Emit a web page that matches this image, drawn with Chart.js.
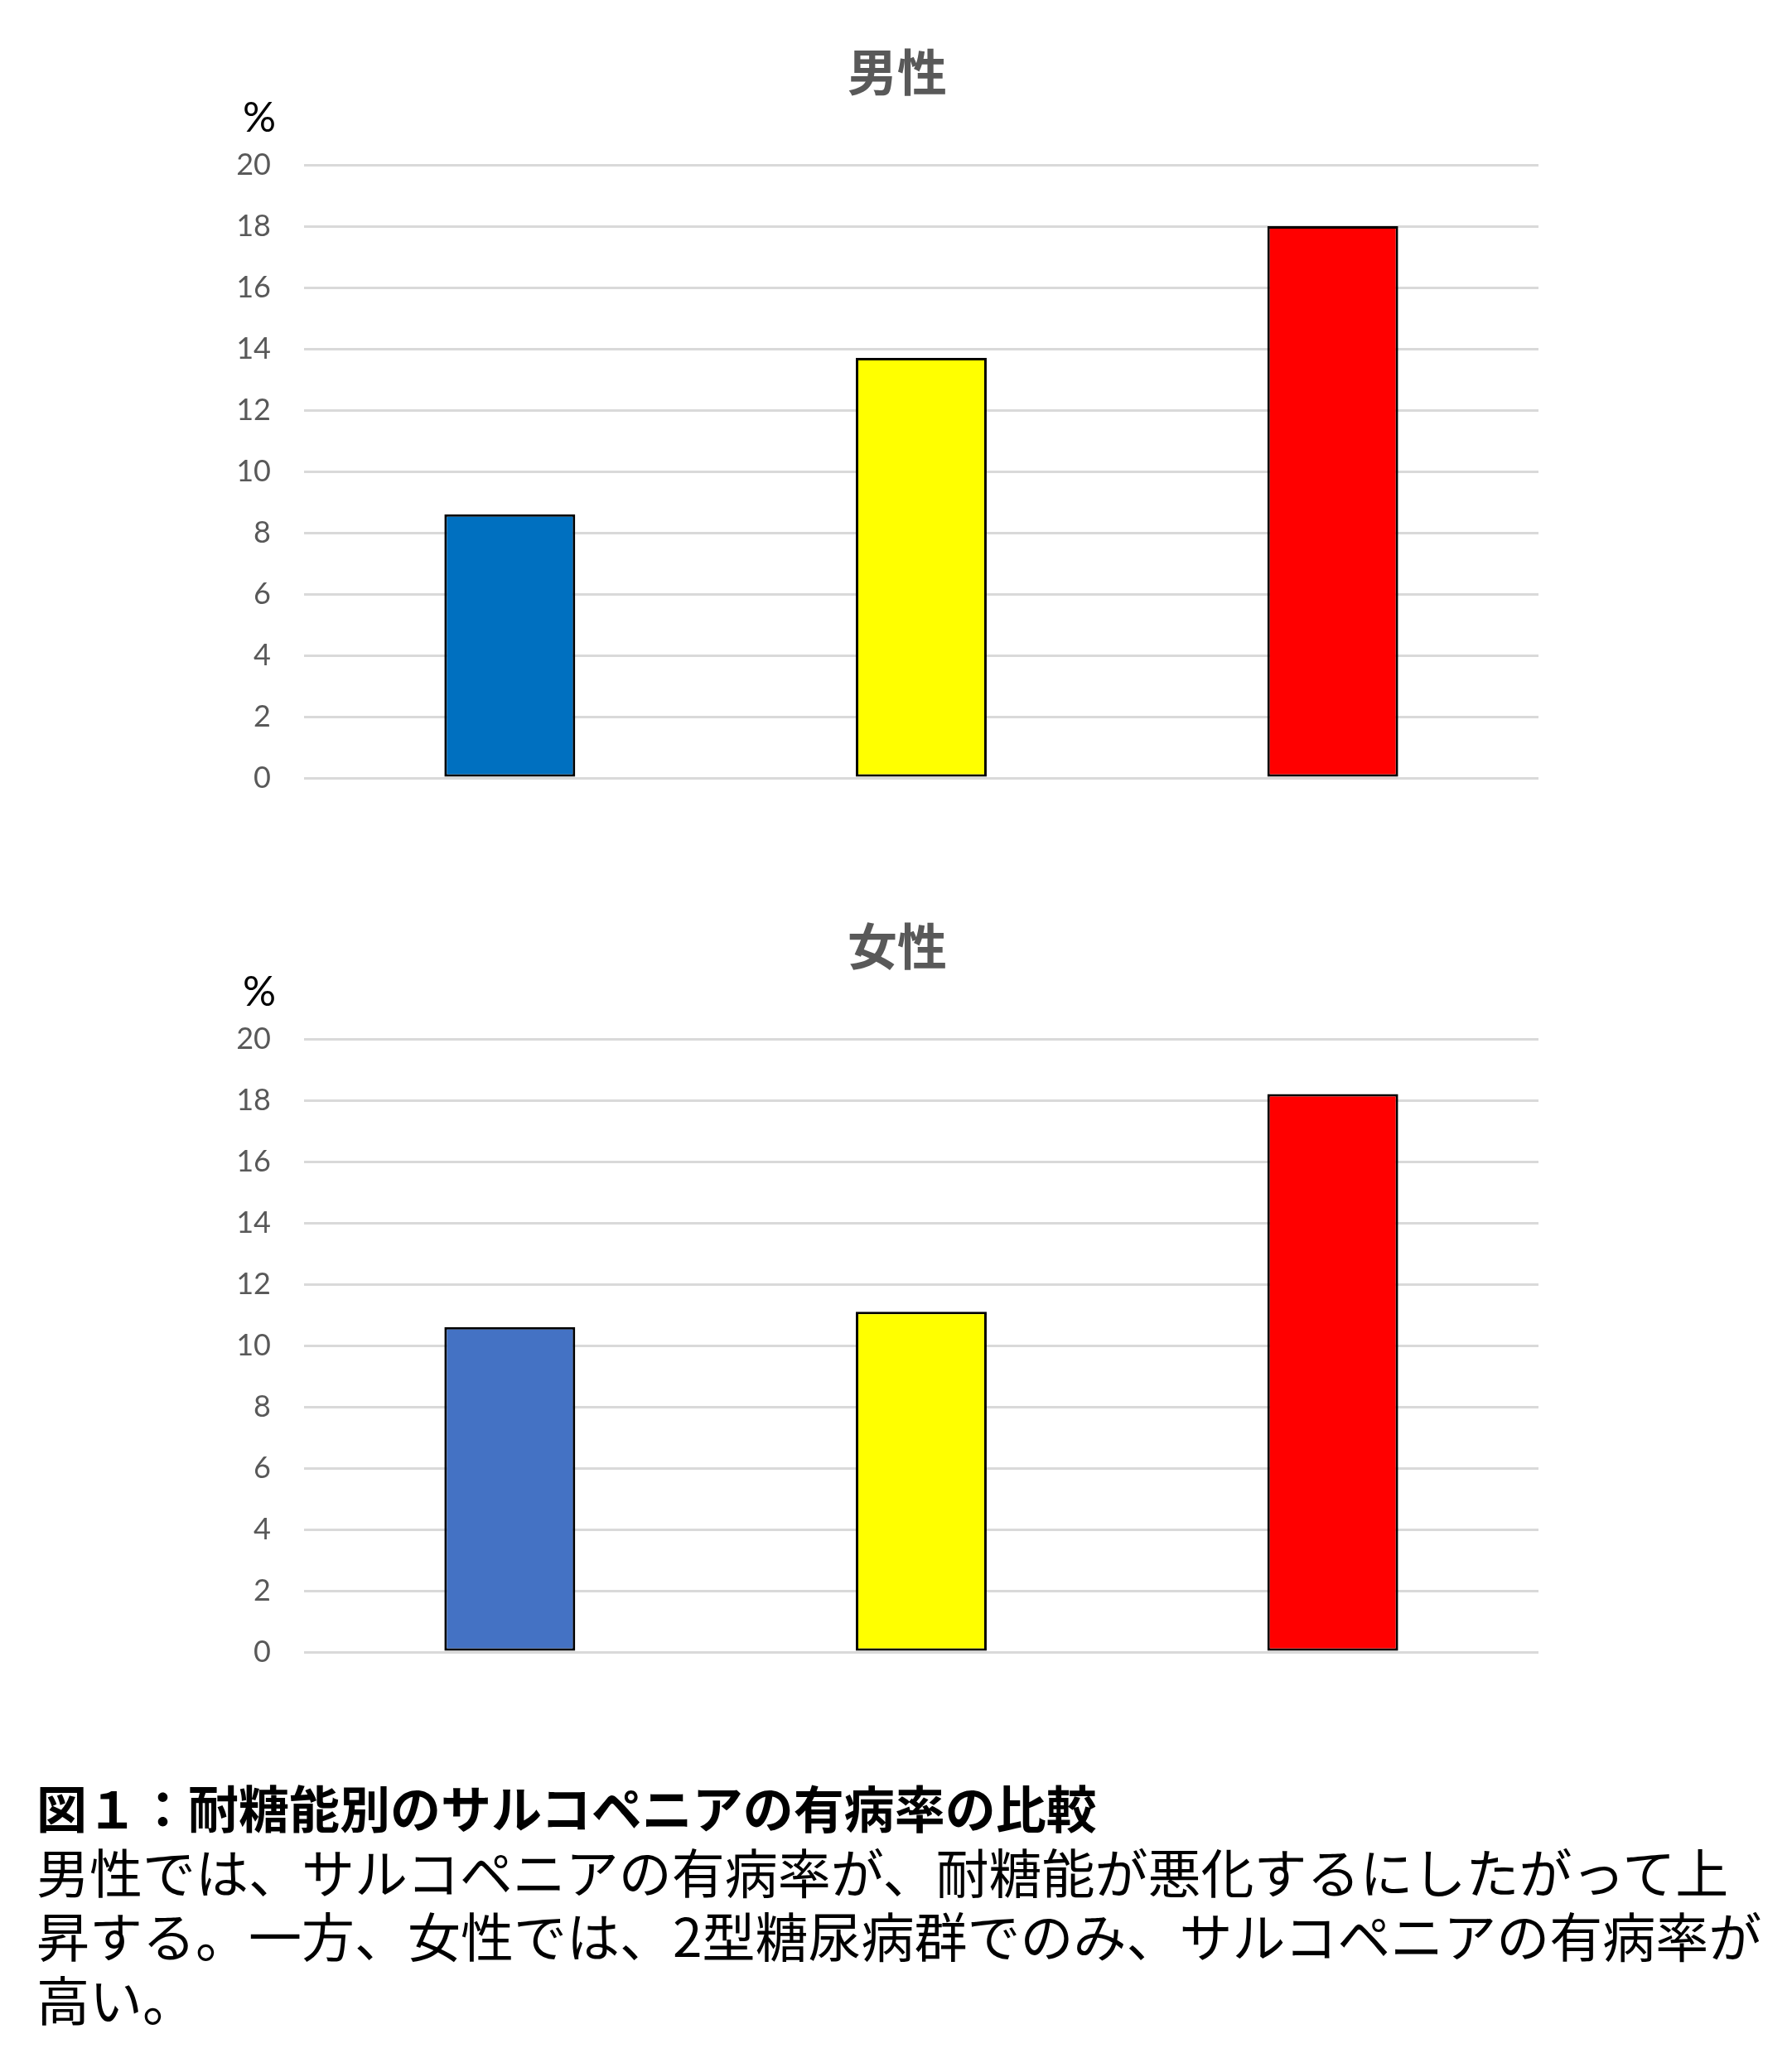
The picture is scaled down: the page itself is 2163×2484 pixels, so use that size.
<!DOCTYPE html>
<html lang="ja">
<head>
<meta charset="utf-8">
<title>耐糖能別のサルコペニアの有病率</title>
<script src="https://cdn.jsdelivr.net/npm/chart.js@4.4.1/dist/chart.umd.min.js"></script>
<style>
  html, body { margin: 0; padding: 0; background: #fff; }
  body { width: 2163px; height: 2484px; position: relative; overflow: hidden; }
  canvas { position: absolute; left: 0; }
  #male { top: 0; }
  #female { top: 1055px; }
  .caption {
    position: absolute; left: 44px; top: 2142px;
    font-family: "Noto Sans CJK JP", sans-serif; color: #000;
    line-height: 77px; white-space: nowrap;
  }
  .caption .head { font-size: 61px; font-weight: bold; }
  .caption .body { font-size: 64px; }
</style>
</head>
<body>
<canvas id="male" width="2163" height="1055"></canvas>
<canvas id="female" width="2163" height="1055"></canvas>
<div class="caption">
  <div class="head">図１：耐糖能別のサルコペニアの有病率の比較</div>
  <div class="body">男性では、サルコペニアの有病率が、耐糖能が悪化するにしたがって上</div>
  <div class="body">昇する。一方、女性では、2型糖尿病群でのみ、サルコペニアの有病率が</div>
  <div class="body">高い。</div>
</div>
<script>
// groups (x labels are not shown on the chart)
const groups = ['正常耐糖能', '境界型', '2型糖尿病'];
const maleValues = [8.6, 13.7, 18.0];
const femaleValues = [10.6, 11.1, 18.2];
const maleColors = ['#0070C0', '#FFFF00', '#FF0000'];
const femaleColors = ['#4472C4', '#FFFF00', '#FF0000'];
const yTicks = [0, 2, 4, 6, 8, 10, 12, 14, 16, 18, 20];

// chart title (a little left of the plot centre, as in the original) and the "%" unit
const headings = {
  id: 'headings',
  afterDraw(chart, args, opts) {
    const {ctx, chartArea} = chart;
    ctx.save();
    ctx.textAlign = 'center';
    ctx.textBaseline = 'middle';
    ctx.fillStyle = '#595959';
    ctx.font = 'bold 60px "Noto Sans CJK JP", sans-serif';
    ctx.fillText(opts.text, 1083, chartArea.top - 112);
    ctx.fillStyle = '#000';
    ctx.font = '50px Lato, sans-serif';
    ctx.fillText('%', chartArea.left - 54, chartArea.top - 56);
    ctx.restore();
  }
};

function drawChart(id, title, values, colors) {
  return new Chart(document.getElementById(id).getContext('2d'), {
    type: 'bar',
    data: {
      labels: groups,
      datasets: [{
        label: title,
        data: values,
        backgroundColor: colors,
        borderColor: '#000',
        borderWidth: 3,
        borderSkipped: false,
        barPercentage: 0.318,
        categoryPercentage: 1,
      }]
    },
    options: {
      responsive: false,
      animation: false,
      devicePixelRatio: 1,
      layout: {padding: {left: 0, right: 306, top: 199, bottom: 116}},
      plugins: {
        legend: {display: false},
        tooltip: {enabled: false},
        title: {display: false},
        headings: {text: title},
      },
      scales: {
        x: {display: false},
        y: {
          min: 0,
          max: 20,
          afterBuildTicks(scale) {
            scale.ticks = yTicks.map(v => ({value: v}));
          },
          afterFit(scale) {
            scale.width = 367;
          },
          border: {display: false},
          grid: {color: '#d9d9d9', lineWidth: 3, drawTicks: false},
          ticks: {
            color: '#595959',
            font: {family: 'Lato, sans-serif', size: 36},
            padding: 40,
          },
        },
      },
    },
    plugins: [headings],
  });
}

drawChart('male', '男性', maleValues, maleColors);
drawChart('female', '女性', femaleValues, femaleColors);
</script>
</body>
</html>
